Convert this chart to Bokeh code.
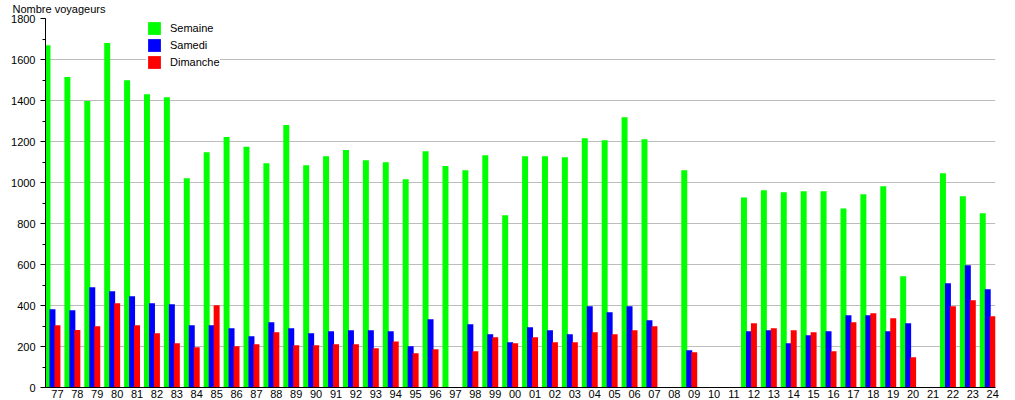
from bokeh.plotting import figure
from bokeh.models import (ColumnDataSource, FixedTicker, Legend, LegendItem,
                          Range1d, SingleIntervalTicker)
from bokeh.transform import dodge
from bokeh.embed import file_html
from bokeh.resources import INLINE

years = ["77", "78", "79", "80", "81", "82", "83", "84", "85", "86", "87", "88",
         "89", "90", "91", "92", "93", "94", "95", "96", "97", "98", "99", "00",
         "01", "02", "03", "04", "05", "06", "07", "08", "09", "10", "11", "12",
         "13", "14", "15", "16", "17", "18", "19", "20", "21", "22", "23", "24"]

semaine = [1670, 1515, 1398, 1680, 1499, 1431, 1416, 1021, 1148, 1222, 1174, 1094,
           1280, 1084, 1128, 1158, 1109, 1099, 1016, 1153, 1080, 1060, 1133, 840,
           1128, 1128, 1123, 1216, 1206, 1318, 1211, None, 1060, None, None, 927,
           962, 952, 957, 957, 873, 943, 982, 543, None, 1045, 933, 850]

samedi = [382, 377, 489, 470, 445, 411, 406, 304, 304, 289, 250, 318,
          289, 265, 274, 279, 279, 274, 201, 333, None, 309, 260, 221,
          294, 279, 260, 396, 367, 396, 328, None, 182, None, None, 274,
          279, 216, 255, 274, 352, 352, 274, 313, None, 508, 596, 479]

dimanche = [304, 280, 299, 411, 304, 265, 216, 196, 401, 201, 211, 270,
            206, 206, 211, 211, 191, 225, 167, 187, None, 177, 245, 216,
            245, 221, 221, 270, 260, 279, 299, None, 172, None, None, 313,
            289, 279, 270, 177, 318, 362, 338, 147, None, 396, 426, 348]

series_names = ["Semaine", "Samedi", "Dimanche"]
series_colors = ["#00ff00", "#0000ff", "#ff0000"]

FONT = "Liberation Sans"

idx = list(range(len(years)))

p = figure(width=1010, height=400, output_backend="svg", toolbar_location=None,
           x_range=Range1d(-0.6, 47.14), y_range=Range1d(0, 1800),
           min_border_left=45, min_border_right=15, min_border_top=17,
           min_border_bottom=0)

p.title.text = "Nombre voyageurs"
p.title.text_font = FONT
p.title.text_font_size = "11px"
p.title.text_font_style = "normal"
p.title.text_color = "#000000"
p.title.align = "left"
p.title.vertical_align = "top"
p.title.offset = -33
p.title.standoff = 4

p.outline_line_color = None
p.background_fill_color = "#ffffff"
p.border_fill_color = "#ffffff"

p.xgrid.grid_line_color = None
p.ygrid.grid_line_color = "#bdbdbd"
p.ygrid.grid_line_width = 1

p.yaxis.ticker = SingleIntervalTicker(interval=200, num_minor_ticks=2)
p.yaxis.major_tick_out = 5
p.yaxis.major_tick_in = 0
p.yaxis.minor_tick_out = 3
p.yaxis.minor_tick_in = 0
p.yaxis.major_label_standoff = 5
p.yaxis.major_label_text_font = FONT
p.yaxis.major_label_text_font_size = "11px"
p.yaxis.major_label_text_color = "#000000"
p.yaxis.axis_line_color = "#000000"

p.xaxis.ticker = FixedTicker(ticks=idx)
p.xaxis.major_label_overrides = {i: y for i, y in zip(idx, years)}
p.xaxis.major_tick_out = 0
p.xaxis.major_tick_in = 0
p.xaxis.minor_tick_out = 0
p.xaxis.minor_tick_in = 0
p.xaxis.major_label_standoff = 2
p.xaxis.major_label_text_font = FONT
p.xaxis.major_label_text_font_size = "11px"
p.xaxis.major_label_text_color = "#000000"
p.xaxis.axis_line_color = "#000000"

offsets = [-0.5, -0.25, 0.0]
renderers = []
for vals, name, color, off in zip([semaine, samedi, dimanche], series_names,
                                  series_colors, offsets):
    xs = [i for i, v in zip(idx, vals) if v is not None]
    ys = [v for v in vals if v is not None]
    src = ColumnDataSource(dict(x=xs, top=ys))
    r = p.vbar(x=dodge("x", off, range=p.x_range), top="top", bottom=0,
               width=0.3, source=src, fill_color=color, line_color=None)
    renderers.append(r)

legend = Legend(items=[LegendItem(label=n, renderers=[r])
                       for n, r in zip(series_names, renderers)],
                location=(101, 317),
                glyph_width=16, glyph_height=16, label_height=16,
                spacing=1, padding=0, margin=0, label_standoff=8,
                label_text_font=FONT, label_text_font_size="11px",
                label_text_color="#000000",
                background_fill_color="#ffffff", background_fill_alpha=1,
                border_line_color=None)
p.add_layout(legend)

open("out.html", "w").write(file_html(p, INLINE))
